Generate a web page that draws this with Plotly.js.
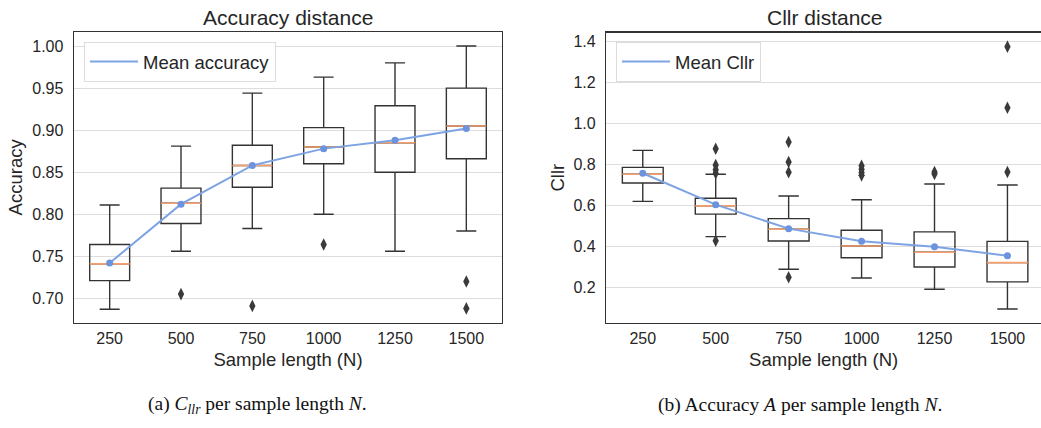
<!DOCTYPE html>
<html>
<head>
<meta charset="utf-8">
<script src="https://cdn.plot.ly/plotly-3.0.1.min.js"></script>
<style>html,body{margin:0;padding:0;background:#fff;}#chart{width:1041px;height:428px;}</style>
</head>
<body>
<div id="chart"></div>
<script>
const categories = ['250', '500', '750', '1000', '1250', '1500'];

// Accuracy distance (left)
const accQ1     = [0.721, 0.789, 0.832, 0.860, 0.850, 0.866];
const accMedian = [0.741, 0.813, 0.858, 0.880, 0.885, 0.905];
const accQ3     = [0.764, 0.831, 0.882, 0.903, 0.929, 0.950];
const accLower  = [0.687, 0.756, 0.783, 0.800, 0.756, 0.780];
const accUpper  = [0.811, 0.881, 0.944, 0.963, 0.980, 1.000];
const accMean   = [0.742, 0.812, 0.858, 0.878, 0.888, 0.902];
const accOutX   = ['500', '750', '1000', '1500', '1500'];
const accOutY   = [0.705, 0.691, 0.764, 0.720, 0.688];

// Cllr distance (right)
const cllrQ1     = [0.711, 0.559, 0.428, 0.346, 0.301, 0.228];
const cllrMedian = [0.753, 0.599, 0.485, 0.403, 0.373, 0.322];
const cllrQ3     = [0.787, 0.636, 0.537, 0.480, 0.472, 0.426];
const cllrLower  = [0.621, 0.449, 0.290, 0.247, 0.192, 0.096];
const cllrUpper  = [0.870, 0.753, 0.647, 0.629, 0.706, 0.701];
const cllrMean   = [0.758, 0.605, 0.488, 0.426, 0.399, 0.356];
const cllrOutX   = ['500', '500', '500', '500', '500',
                    '750', '750', '750', '750',
                    '1000', '1000', '1000', '1000',
                    '1250', '1250',
                    '1500', '1500', '1500'];
const cllrOutY   = [0.878, 0.798, 0.775, 0.758, 0.429,
                    0.911, 0.813, 0.763, 0.251,
                    0.795, 0.778, 0.762, 0.748,
                    0.764, 0.755,
                    1.376, 1.078, 0.764];

const FONT = 'Liberation Sans, Arial, sans-serif';
const TXT = '#262626';
const BOXC = '#333333';
const MEDC = '#f5a06e';
const MEANC = '#7ea3e3';
const MEANM = '#6c93de';

function boxTrace(q1, med, q3, lo, hi, xa, ya) {
  return {type: 'box', x: categories, q1: q1, median: med, q3: q3,
    lowerfence: lo, upperfence: hi, xaxis: xa, yaxis: ya,
    line: {color: BOXC, width: 1.4}, fillcolor: 'rgba(255,255,255,0)',
    whiskerwidth: 0.5, boxpoints: false, showlegend: false, hoverinfo: 'skip'};
}
function medTrace(med, xa, ya) {
  return {type: 'box', x: categories, q1: med, median: med, q3: med,
    lowerfence: med, upperfence: med, xaxis: xa, yaxis: ya,
    line: {color: MEDC, width: 1.6}, fillcolor: 'rgba(255,255,255,0)',
    whiskerwidth: 0, boxpoints: false, showlegend: false, hoverinfo: 'skip'};
}
function outTrace(xs, ys, xa, ya) {
  return {type: 'scatter', mode: 'markers', x: xs, y: ys, xaxis: xa, yaxis: ya,
    marker: {symbol: 'diamond-tall', size: 9, color: '#3a3a3a'}, showlegend: false, hoverinfo: 'skip'};
}
function meanTrace(ys, xa, ya) {
  return {type: 'scatter', mode: 'lines+markers', x: categories, y: ys, xaxis: xa, yaxis: ya,
    line: {color: MEANC, width: 2}, marker: {color: MEANM, size: 7},
    showlegend: false, hoverinfo: 'skip'};
}
function legendTrace(name, xa, ya, leg) {
  return {type: 'scatter', mode: 'lines', x: [null], y: [null], xaxis: xa, yaxis: ya,
    name: name, line: {color: MEANC, width: 2}, legend: leg, showlegend: true};
}

const data = [
  boxTrace(accQ1, accMedian, accQ3, accLower, accUpper, 'x', 'y'),
  medTrace(accMedian, 'x', 'y'),
  outTrace(accOutX, accOutY, 'x', 'y'),
  meanTrace(accMean, 'x', 'y'),
  legendTrace('Mean accuracy', 'x', 'y', 'legend'),
  boxTrace(cllrQ1, cllrMedian, cllrQ3, cllrLower, cllrUpper, 'x2', 'y2'),
  medTrace(cllrMedian, 'x2', 'y2'),
  outTrace(cllrOutX, cllrOutY, 'x2', 'y2'),
  meanTrace(cllrMean, 'x2', 'y2'),
  legendTrace('Mean Cllr', 'x2', 'y2', 'legend2')
];

const W = 1041, H = 428;
function xax(d0, d1, r, anchor) {
  return {domain: [d0 / W, d1 / W], range: r, type: 'category', anchor: anchor,
    showgrid: false, zeroline: false, showline: true, mirror: true,
    linecolor: BOXC, linewidth: 1.4,
    ticks: 'outside', ticklen: 1, tickcolor: 'rgba(0,0,0,0)',
    tickfont: {family: FONT, size: 16, color: TXT},
    title: {text: 'Sample length (N)', font: {family: FONT, size: 18.5, color: TXT}, standoff: 6},
    automargin: false, fixedrange: true};
}
function yax(top, bot, r, dt, fmt, titleText, anchor) {
  return {domain: [1 - bot / H, 1 - top / H], range: r, anchor: anchor,
    showgrid: true, gridcolor: '#dddddd', gridwidth: 1, zeroline: false,
    showline: true, mirror: true, linecolor: BOXC, linewidth: 1.4,
    dtick: dt, tick0: 0, tickformat: fmt,
    ticks: 'outside', ticklen: 6, tickcolor: 'rgba(0,0,0,0)',
    tickfont: {family: FONT, size: 16, color: TXT},
    title: {text: titleText, font: {family: FONT, size: 18.5, color: TXT}, standoff: 4},
    automargin: false, fixedrange: true};
}
function leg(x0) {
  return {x: x0 / W, y: 1 - 42 / H, xanchor: 'left', yanchor: 'top',
    bgcolor: 'rgba(255,255,255,0.9)', bordercolor: '#dcdcdc', borderwidth: 1,
    itemwidth: 48, font: {family: FONT, size: 18.5, color: TXT}};
}

const layout = {
  width: W, height: H,
  margin: {l: 0, r: 0, t: 0, b: 0},
  paper_bgcolor: '#ffffff', plot_bgcolor: '#ffffff',
  boxmode: 'overlay', boxgap: 0.2,
  font: {family: FONT, color: TXT},
  xaxis: xax(74, 502, [-0.5, 5.5], 'y'),
  yaxis: yax(32, 322.7, [0.671, 1.0167], 0.05, '.2f', 'Accuracy', 'x'),
  xaxis2: xax(606.3, 1041, [-0.5, 5.46], 'y2'),
  yaxis2: yax(32.7, 322.7, [0.029, 1.444], 0.2, '.1f', 'Cllr', 'x2'),
  legend: leg(84),
  legend2: leg(616),
  annotations: [
    {text: 'Accuracy distance', xref: 'paper', yref: 'paper', x: 288 / W, y: 1 - 18 / H,
      xanchor: 'center', yanchor: 'middle', showarrow: false,
      font: {family: FONT, size: 21, color: TXT}},
    {text: 'Cllr distance', xref: 'paper', yref: 'paper', x: 825 / W, y: 1 - 18 / H,
      xanchor: 'center', yanchor: 'middle', showarrow: false,
      font: {family: FONT, size: 21, color: TXT}},
    {text: '(a) <i>C</i><sub><i>llr</i></sub> per sample length <i>N</i>.', xref: 'paper', yref: 'paper',
      x: 257 / W, y: 1 - 405 / H, xanchor: 'center', yanchor: 'middle', showarrow: false,
      font: {family: 'Liberation Serif, serif', size: 19.5, color: '#111'}},
    {text: '(b) Accuracy <i>A</i> per sample length <i>N</i>.', xref: 'paper', yref: 'paper',
      x: 800 / W, y: 1 - 405 / H, xanchor: 'center', yanchor: 'middle', showarrow: false,
      font: {family: 'Liberation Serif, serif', size: 19.5, color: '#111'}}
  ]
};

Plotly.newPlot('chart', data, layout, {staticPlot: true, displayModeBar: false});
</script>
</body>
</html>
